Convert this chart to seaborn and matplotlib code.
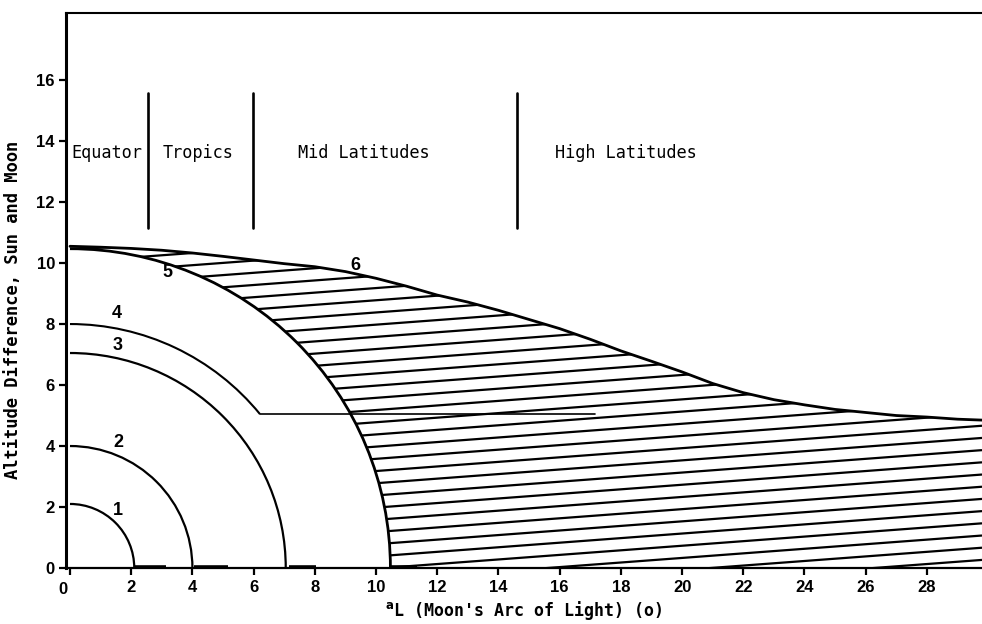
import numpy as np
import matplotlib
matplotlib.use("Agg")
import matplotlib.pyplot as plt
import matplotlib.transforms as mtransforms
from matplotlib.patches import Arc, Wedge, Polygon
import seaborn as sns

# Quarter-circle limits (radius of each numbered curve, in degrees)
arc_radii = [2.1, 4.0, 7.05, 8.0]
arc_labels = ["1", "2", "3", "4"]
arc_label_pos = [(1.57, 1.9), (1.57, 4.1), (1.57, 7.3), (1.54, 8.36)]

# Curve 4 flattens out at this altitude difference and runs on to this arc of light
curve4_break_y = 5.05
curve4_tail_end = 17.15

# Curve 5: outer quarter circle bounding the hatched zone
curve5_radius = 10.47
curve5_label_pos = (3.2, 9.7)

# Curve 6: upper envelope of the hatched zone
curve6_x = [0, 1, 2, 3, 4, 5, 6, 7, 8, 9, 10, 11, 12, 13, 14, 15, 16, 17, 18,
            19, 20, 21, 22, 23, 24, 25, 26, 27, 28, 29, 29.8]
curve6_y = [10.55, 10.52, 10.48, 10.42, 10.33, 10.22, 10.1, 9.98, 9.88, 9.72,
            9.5, 9.24, 8.95, 8.72, 8.45, 8.15, 7.85, 7.5, 7.12, 6.78, 6.43,
            6.05, 5.75, 5.52, 5.35, 5.2, 5.1, 5.0, 4.95, 4.88, 4.85]
curve6_label_pos = (9.31, 9.93)

# Short runs along the baseline where each curve ends
base_runs = [(2.1, 3.15), (4.05, 5.15), (7.15, 8.05), (10.45, 11.35)]

# Latitude zones
zone_dividers = [2.55, 5.98, 14.6]
zone_divider_span = (11.15, 15.57)
zone_names = ["Equator", "Tropics", "Mid Latitudes", "High Latitudes"]
zone_name_x = [0.03, 3.04, 7.45, 15.85]
zone_name_y = 13.6

x_ticks = list(range(0, 30, 2))
y_ticks = list(range(0, 18, 2))

sns.set_theme(style="white")
plt.rcParams["font.family"] = ["DejaVu Sans"]

fig = plt.figure(figsize=(9.82, 6.24), dpi=100)
ax = fig.add_axes([66 / 982, 56 / 624, 1 - 66 / 982, 555 / 624])
ax.set_xlim(-0.13, 29.8)
ax.set_ylim(0, 18.2)

ink = "black"

# Hatched zone: slanted rules clipped to the area under curve 6, outside curve 5
zone = Polygon(list(zip(curve6_x, curve6_y)) + [(curve6_x[-1], 0), (0, 0)],
               closed=True, facecolor="none", edgecolor="none",
               transform=ax.transData)
ax.add_patch(zone)
slope = 0.075
spacing = 0.4
for c in np.arange(-1.57 - 12 * spacing, 11.0, spacing):
    xs = np.array([0.0, 29.8])
    ln, = ax.plot(xs, c + slope * xs, color=ink, lw=1.6, zorder=1.5,
                  solid_capstyle="butt")
    ln.set_clip_path(zone)
ax.add_patch(Wedge((0, 0), curve5_radius, 0, 90, facecolor="white",
                   edgecolor="none", zorder=2))

# Curves 1-3: full quarter circles
for r in arc_radii[:3]:
    ax.add_patch(Arc((0, 0), 2 * r, 2 * r, theta1=0, theta2=90,
                     color=ink, lw=1.6, zorder=3))

# Curve 4: arc down to the break, then flat
r4 = arc_radii[3]
theta_break = np.degrees(np.arcsin(curve4_break_y / r4))
ax.add_patch(Arc((0, 0), 2 * r4, 2 * r4, theta1=theta_break, theta2=90,
                 color=ink, lw=1.5, zorder=3))
x_break = np.sqrt(r4 ** 2 - curve4_break_y ** 2)
sns.lineplot(x=[x_break, curve4_tail_end], y=[curve4_break_y, curve4_break_y],
             ax=ax, color=ink, lw=1.2, zorder=3)

# Curve 5
ax.add_patch(Arc((0, 0), 2 * curve5_radius, 2 * curve5_radius, theta1=0,
                 theta2=90, color=ink, lw=2.0, zorder=3))

# Curve 6
sns.lineplot(x=curve6_x, y=curve6_y, ax=ax, color=ink, lw=2.0, zorder=3,
             estimator=None, sort=False)

for x0, x1 in base_runs:
    ax.plot([x0, x1], [0.03, 0.03], color=ink, lw=2.6, zorder=3,
            solid_capstyle="butt")

# Curve numbers
num_font = dict(family="Liberation Sans", fontweight="bold", fontsize=13,
                color=ink, ha="center", va="center", zorder=4)
for lab, (lx, ly) in zip(arc_labels, arc_label_pos):
    ax.text(lx, ly, lab, **num_font)
ax.text(*curve5_label_pos, "5", **num_font)
ax.text(*curve6_label_pos, "6", **num_font)

# Latitude zones
for xd in zone_dividers:
    ax.plot([xd, xd], zone_divider_span, color=ink, lw=1.9, zorder=3)
for name, nx in zip(zone_names, zone_name_x):
    ax.text(nx, zone_name_y, name, family="DejaVu Sans Mono", fontsize=12.2,
            color=ink, ha="left", va="center")

# Axes frame
ax.spines["right"].set_visible(False)
ax.spines["left"].set_linewidth(2.2)
ax.spines["top"].set_linewidth(1.5)
ax.spines["bottom"].set_linewidth(1.6)
for s in ax.spines.values():
    s.set_color(ink)

ax.set_xticks(x_ticks)
ax.set_yticks(y_ticks)
ax.set_xticklabels([str(v) for v in x_ticks])
ax.set_yticklabels([str(v) for v in y_ticks])
ax.tick_params(axis="both", direction="out", length=5, width=1.6, color=ink,
               labelcolor=ink, left=True, bottom=True)
ax.tick_params(axis="x", pad=4)
ax.tick_params(axis="y", pad=3)
for t in ax.get_xticklabels() + ax.get_yticklabels():
    t.set_fontfamily("Liberation Sans")
    t.set_fontweight("bold")
    t.set_fontsize(12)

# The origin label on the x axis sits a little left of its tick
first_x = ax.get_xticklabels()[0]
first_x.set_transform(first_x.get_transform() +
                      mtransforms.ScaledTranslation(-7 / 100, -1 / 100,
                                                    fig.dpi_scale_trans))

ax.set_xlabel(r"$^{\mathbf{a}}$L (Moon's Arc of Light) (o)",
              family="DejaVu Sans Mono", fontweight="bold", fontsize=12,
              color=ink, labelpad=2)
ax.set_ylabel("Altitude Difference, Sun and Moon", family="DejaVu Sans Mono",
              fontweight="bold", fontsize=12.3, color=ink)
ax.yaxis.set_label_coords(-44 / 916, (568 - 310) / 555)

fig.savefig("out.png", dpi=100, facecolor="white")
